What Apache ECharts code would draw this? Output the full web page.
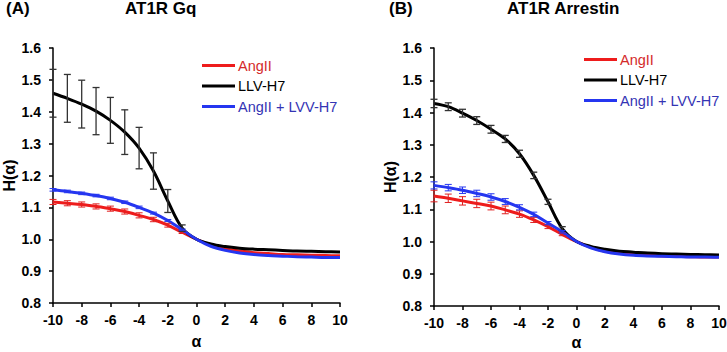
<!DOCTYPE html>
<html>
<head>
<meta charset="utf-8">
<script src="https://cdn.jsdelivr.net/npm/echarts@6/dist/echarts.min.js"></script>
<style>
html, body { margin: 0; padding: 0; background: #fff; }
#main { width: 727px; height: 352px; }
</style>
</head>
<body>
<div id="main"></div>
<script>
var chartDom = document.getElementById('main');
var myChart = echarts.init(chartDom, null, { renderer: 'svg' });

// alpha values, -10 .. 10
const alpha = [-10, -9, -8, -7, -6, -5, -4, -3, -2, -1, 0, 1, 2, 3, 4, 5, 6, 7, 8, 9, 10];
const errAlpha = [-10, -9, -8, -7, -6, -5, -4, -3, -2, -1];
const names = ['AngII', 'LLV-H7', 'AngII + LVV-H7'];

// (A) AT1R Gq
const gqAngII = [1.117, 1.113, 1.109, 1.103, 1.096, 1.087, 1.075, 1.062, 1.044, 1.022, 1.0, 0.982, 0.970, 0.963, 0.958, 0.955, 0.952, 0.951, 0.950, 0.949, 0.948];
const gqLLV = [1.458, 1.442, 1.424, 1.402, 1.373, 1.336, 1.286, 1.214, 1.120, 1.035, 1.0, 0.985, 0.977, 0.972, 0.969, 0.967, 0.965, 0.963, 0.962, 0.961, 0.960];
const gqMix = [1.155, 1.150, 1.144, 1.137, 1.128, 1.116, 1.100, 1.082, 1.059, 1.030, 1.0, 0.978, 0.965, 0.957, 0.952, 0.949, 0.947, 0.945, 0.944, 0.943, 0.943];
const gqAngIIErr = [0.008, 0.008, 0.008, 0.008, 0.008, 0.008, 0.008, 0.007, 0.006, 0.004];
const gqLLVErr = [0.075, 0.075, 0.075, 0.074, 0.072, 0.070, 0.065, 0.057, 0.036, 0.010];
const gqMixErr = [0.004, 0.004, 0.004, 0.004, 0.004, 0.004, 0.004, 0.003, 0.003, 0.002];

// (B) AT1R Arrestin
const arrAngII = [1.141, 1.134, 1.126, 1.118, 1.110, 1.098, 1.085, 1.067, 1.046, 1.022, 1.0, 0.982, 0.970, 0.964, 0.960, 0.957, 0.955, 0.954, 0.953, 0.952, 0.952];
const arrLLV = [1.428, 1.418, 1.398, 1.375, 1.348, 1.318, 1.272, 1.205, 1.123, 1.040, 1.0, 0.985, 0.976, 0.970, 0.967, 0.964, 0.962, 0.961, 0.960, 0.959, 0.958];
const arrMix = [1.174, 1.167, 1.159, 1.149, 1.138, 1.124, 1.106, 1.084, 1.057, 1.030, 1.0, 0.980, 0.968, 0.961, 0.957, 0.955, 0.954, 0.953, 0.952, 0.952, 0.951];
const arrAngIIErr = [0.018, 0.013, 0.013, 0.013, 0.012, 0.012, 0.010, 0.008, 0.006, 0.004];
const arrLLVErr = [0.013, 0.012, 0.012, 0.012, 0.012, 0.011, 0.011, 0.010, 0.008, 0.006];
const arrMixErr = [0.011, 0.010, 0.010, 0.010, 0.010, 0.009, 0.008, 0.007, 0.005, 0.004];

const colors = { 'AngII': '#ee1c1c', 'LLV-H7': '#000000', 'AngII + LVV-H7': '#2536f0' };
const textColors = { 'AngII': '#d42a2a', 'LLV-H7': '#000000', 'AngII + LVV-H7': '#3434b4' };
const barColors = { 'AngII': '#e02020', 'LLV-H7': '#333333', 'AngII + LVV-H7': '#2536f0' };

const pairs = (ys) => alpha.map((a, i) => [a, ys[i]]);
const errPairs = (ys, es) => errAlpha.map((a, i) => [a, ys[alpha.indexOf(a)], es[i]]);

function errorBar(color, lw) {
    return function (params, api) {
        const x = api.value(0), y = api.value(1), e = api.value(2);
        const top = api.coord([x, y + e]);
        const bot = api.coord([x, y - e]);
        const hw = 3.5;
        const st = { stroke: color, lineWidth: lw };
        return {
            type: 'group',
            children: [
                { type: 'line', shape: { x1: top[0], y1: top[1], x2: bot[0], y2: bot[1] }, style: st },
                { type: 'line', shape: { x1: top[0] - hw, y1: top[1], x2: top[0] + hw, y2: top[1] }, style: st },
                { type: 'line', shape: { x1: bot[0] - hw, y1: bot[1], x2: bot[0] + hw, y2: bot[1] }, style: st }
            ]
        };
    };
}

const font = 'Liberation Sans, Arial, sans-serif';

function xAxis(gi, gap) {
    return {
        type: 'value', gridIndex: gi, min: -10, max: 10, interval: 2,
        name: 'α', nameLocation: 'middle', nameGap: gap,
        nameTextStyle: { fontFamily: font, fontWeight: 'bold', fontSize: 16, color: '#000' },
        axisLine: { onZero: false, lineStyle: { color: '#000', width: 1.5 } },
        axisTick: { show: true, inside: false, length: 4, lineStyle: { color: '#000', width: 1.5 } },
        axisLabel: { fontFamily: font, fontWeight: 'bold', fontSize: 14, color: '#000', margin: 10 },
        splitLine: { show: false }
    };
}
function yAxis(gi, gap) {
    return {
        type: 'value', gridIndex: gi, min: 0.8, max: 1.6, interval: 0.1,
        name: 'H(α)', nameLocation: 'middle', nameGap: gap, nameRotate: 90,
        nameTextStyle: { fontFamily: font, fontWeight: 'bold', fontSize: 16, color: '#000' },
        axisLine: { show: true, onZero: false, lineStyle: { color: '#000', width: 1.5 } },
        axisTick: { show: true, inside: false, length: 4, lineStyle: { color: '#000', width: 1.5 } },
        axisLabel: {
            fontFamily: font, fontWeight: 'bold', fontSize: 14, color: '#000', margin: 12,
            formatter: (v) => v.toFixed(1)
        },
        splitLine: { show: false }
    };
}

function lineSeries(name, ys, gi) {
    return {
        name, type: 'line', xAxisIndex: gi, yAxisIndex: gi,
        data: pairs(ys), smooth: 0.35, showSymbol: false, silent: true,
        color: colors[name],
        lineStyle: { width: 3, color: colors[name] }
    };
}
function errSeries(name, ys, es, gi) {
    return {
        type: 'custom', xAxisIndex: gi, yAxisIndex: gi, silent: true,
        renderItem: errorBar(barColors[name], name === 'LLV-H7' ? 1.3 : 1),
        data: errPairs(ys, es), z: 5
    };
}

function legend(left, top, gap) {
    return {
        left, top, orient: 'vertical', itemGap: gap,
        itemWidth: 33, itemHeight: 3, icon: 'rect',
        selectedMode: false,
        textStyle: { fontFamily: font, fontSize: 14.5, lineHeight: 14, padding: [0, 0, 0, -2] },
        data: names.map((n) => ({ name: n, textStyle: { color: textColors[n] } }))
    };
}

const titleStyle = { fontFamily: font, fontWeight: 'bold', fontSize: 17, color: '#000' };

option = {
    backgroundColor: '#fff',
    animation: false,
    title: [
        { text: '(A)', left: 6, top: 0, padding: 0, textStyle: titleStyle },
        { text: 'AT1R Gq', left: 125, top: 0, padding: 0, textStyle: titleStyle },
        { text: '(B)', left: 389, top: 0, padding: 0, textStyle: titleStyle },
        { text: 'AT1R Arrestin', left: 507, top: 0, padding: 0, textStyle: titleStyle }
    ],
    legend: [legend(197, 53, 5.5), legend(579, 47, 5.5)],
    grid: [
        { left: 53, top: 48, width: 287, height: 255, outerBoundsMode: 'none', containLabel: false },
        { left: 434, top: 48, width: 285, height: 258, outerBoundsMode: 'none', containLabel: false }
    ],
    xAxis: [xAxis(0, 30), xAxis(1, 27)],
    yAxis: [yAxis(0, 35), yAxis(1, 34)],
    series: [
        lineSeries('AngII', gqAngII, 0),
        lineSeries('LLV-H7', gqLLV, 0),
        lineSeries('AngII + LVV-H7', gqMix, 0),
        errSeries('AngII', gqAngII, gqAngIIErr, 0),
        errSeries('LLV-H7', gqLLV, gqLLVErr, 0),
        errSeries('AngII + LVV-H7', gqMix, gqMixErr, 0),
        lineSeries('AngII', arrAngII, 1),
        lineSeries('LLV-H7', arrLLV, 1),
        lineSeries('AngII + LVV-H7', arrMix, 1),
        errSeries('AngII', arrAngII, arrAngIIErr, 1),
        errSeries('LLV-H7', arrLLV, arrLLVErr, 1),
        errSeries('AngII + LVV-H7', arrMix, arrMixErr, 1)
    ]
};
option && myChart.setOption(option);
</script>
</body>
</html>
